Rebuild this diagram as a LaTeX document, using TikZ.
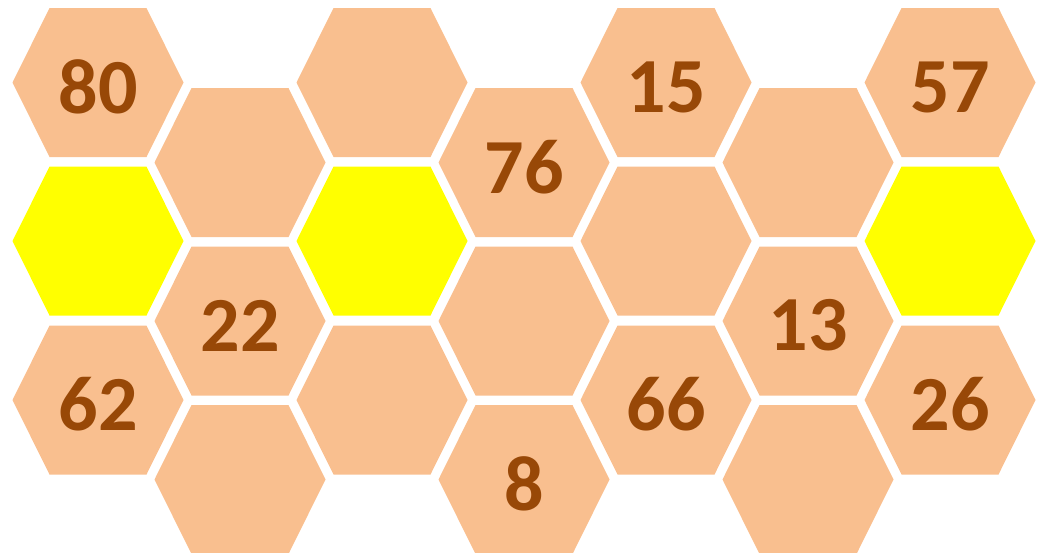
\documentclass[tikz,border=0pt]{standalone}
\usepackage{fontspec}
\setmainfont{Carlito}
\definecolor{peach}{HTML}{F9BF8F}
\definecolor{hexyellow}{HTML}{FFFF00}
\definecolor{numbrown}{HTML}{984807}
\tikzset{
  numlabel/.style={font=\fontsize{78}{80}\selectfont\bfseries, text=numbrown, inner sep=0pt, anchor=center},
}
\newcommand{\hexfill}[3]{%
  \fill[#3] (#1-85.5,#2) -- (#1-48.5,#2-74.5) -- (#1+48.5,#2-74.5) -- (#1+85.5,#2) -- (#1+48.5,#2+74.5) -- (#1-48.5,#2+74.5) -- cycle;}
\begin{document}
\begin{tikzpicture}[x=1pt,y=-1pt]
\useasboundingbox (0,0) rectangle (1038,552);
% even columns (0,2,4,6)
\foreach \cx/\ca/\cb/\cc in {98/peach/hexyellow/peach, 382/peach/hexyellow/peach, 666/peach/peach/peach, 950/peach/hexyellow/peach}{
  \hexfill{\cx}{82.5}{\ca}
  \hexfill{\cx}{241}{\cb}
  \hexfill{\cx}{400}{\cc}
}
% odd columns (1,3,5)
\foreach \cx in {240,524,808}{
  \hexfill{\cx}{162.5}{peach}
  \hexfill{\cx}{321}{peach}
  \hexfill{\cx}{479.5}{peach}
}
\node[numlabel] (n80) at (98,87) {80};
\node[numlabel] (n62) at (98,404.5) {62};
\node[numlabel] (n22) at (240,325.5) {22};
\node[numlabel] (n76) at (524,167) {76};
\node[numlabel] (n8) at (524,484) {8};
\node[numlabel] (n15) at (666,87) {15};
\node[numlabel] (n66) at (666,404.5) {66};
\node[numlabel] (n13) at (808,325.5) {13};
\node[numlabel] (n57) at (950,87) {57};
\node[numlabel] (n26) at (950,404.5) {26};
\end{tikzpicture}
\end{document}
